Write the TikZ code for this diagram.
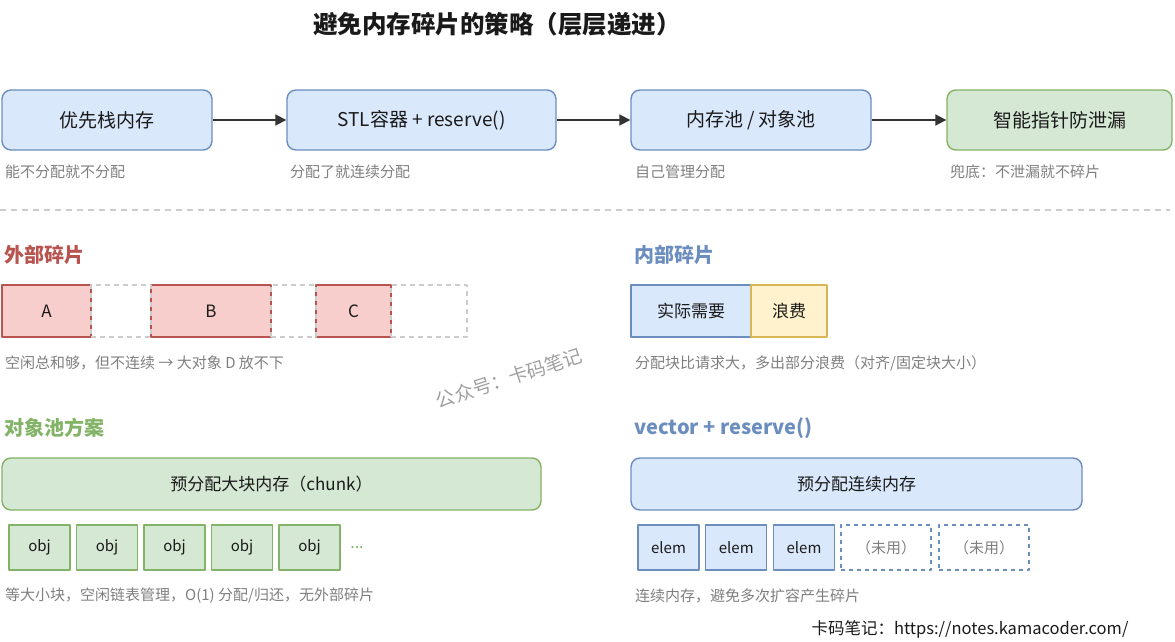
\documentclass[tikz,border=0pt]{standalone}
\usepackage{fontspec}
\setmainfont{Noto Sans CJK SC}
\usepackage{tikz}
\usetikzlibrary{arrows.meta}
\definecolor{bluefill}{HTML}{DAE8FC}
\definecolor{blueline}{HTML}{6C8EBF}
\definecolor{greenfill}{HTML}{D5E8D4}
\definecolor{greenline}{HTML}{82B366}
\definecolor{redfill}{HTML}{F8CECC}
\definecolor{redline}{HTML}{B85450}
\definecolor{yellowfill}{HTML}{FFF2CC}
\definecolor{yellowline}{HTML}{D6B656}
\definecolor{ink}{HTML}{1A1A1A}
\definecolor{capgray}{HTML}{7F7F7F}
\definecolor{dashgray}{HTML}{CCCCCC}
\definecolor{arrowgray}{HTML}{333333}
\tikzset{
  every picture/.style={line join=round, >={Triangle[length=11pt,width=11pt]}},
  stepbox/.style={draw, line width=1.4pt, rounded corners=9pt, inner sep=0pt, minimum height=60pt, text=ink, font=\fontsize{19}{22}\selectfont},
  blk/.style={draw, line width=1.4pt, inner sep=0pt, minimum height=52pt, text=ink, font=\fontsize{17}{20}\selectfont},
  freeblk/.style={draw=dashgray, line width=1.2pt, dash pattern=on 5pt off 4pt, inner sep=0pt, minimum height=52pt},
  cell/.style={draw, line width=1.4pt, inner sep=0pt, minimum width=61pt, minimum height=45pt, text=ink, font=\fontsize{15}{18}\selectfont},
  unused/.style={draw=blueline, line width=1.8pt, dash pattern=on 4pt off 4pt, inner sep=0pt, minimum width=90pt, minimum height=45pt, text=capgray, font=\fontsize{15}{18}\selectfont},
  caption/.style={anchor=west, inner sep=0pt, text=capgray, font=\fontsize{15}{18}\selectfont},
  heading/.style={anchor=west, inner sep=0pt, font=\fontsize{20}{24}\selectfont\bfseries},
  flow/.style={->, draw=arrowgray, fill=arrowgray, line width=1.8pt},
}

\begin{document}
\begin{tikzpicture}[x=1pt,y=-1pt]
\useasboundingbox (0,0) rectangle (1175,642);
\node[font=\fontsize{24.5}{28}\selectfont\bfseries, text=ink] (title) at (497,24) {避免内存碎片的策略（层层递进）};

% top row
\node[stepbox, fill=bluefill, draw=blueline, minimum width=210pt] (stack) at (107,120) {优先栈内存};
\node[stepbox, fill=bluefill, draw=blueline, minimum width=269pt] (stl) at (421.5,120) {STL容器 + reserve()};
\node[stepbox, fill=bluefill, draw=blueline, minimum width=240pt] (pool) at (751,120) {内存池 / 对象池};
\node[stepbox, fill=greenfill, draw=greenline, minimum width=225pt] (smart) at (1059.5,120) {智能指针防泄漏};
\draw[flow] (stack)--(stl);
\draw[flow] (stl)--(pool);
\draw[flow] (pool)--(smart);
\node[caption] (capstack) at (5,172) {能不分配就不分配};
\node[caption] (capstl) at (290,172) {分配了就连续分配};
\node[caption] (cappool) at (635,172) {自己管理分配};
\node[caption] (capsmart) at (950,172) {兜底：不泄漏就不碎片};

\draw[dashgray, line width=1.2pt, dash pattern=on 6pt off 5pt] (0,210)--(1170,210);

% external fragmentation
\node[heading, text=redline] (exthead) at (4,255) {外部碎片};
\node[blk, fill=redfill, draw=redline, minimum width=89pt] (blockA) at (46.5,311) {A};
\node[blk, fill=redfill, draw=redline, minimum width=120pt] (blockB) at (211,311) {B};
\node[blk, fill=redfill, draw=redline, minimum width=75pt] (blockC) at (353.5,311) {C};
\node[freeblk, minimum width=60pt] (freeAB) at (121,311) {};
\node[freeblk, minimum width=45pt] (freeBC) at (293.5,311) {};
\node[freeblk, minimum width=76pt] (freeC) at (429,311) {};
\node[caption] (capext) at (5,363) {空闲总和够，但不连续 → 大对象 D 放不下};

% internal fragmentation
\node[heading, text=blueline] (inthead) at (634,255) {内部碎片};
\node[blk, fill=bluefill, draw=blueline, minimum width=120pt] (need) at (691,311) {实际需要};
\node[blk, fill=yellowfill, draw=yellowline, minimum width=76pt] (waste) at (789,311) {浪费};
\node[caption] (capint) at (635,363) {分配块比请求大，多出部分浪费（对齐/固定块大小）};

\node[rotate=18, inner sep=0pt, text=capgray!75, font=\fontsize{19}{22}\selectfont] (mark) at (509,378) {公众号：卡码笔记};

% object pool
\node[heading, text=greenline] (poolhead) at (4,428) {对象池方案};
\node[blk, fill=greenfill, draw=greenline, rounded corners=9pt, minimum width=539pt] (chunk) at (271.5,484) {预分配大块内存（chunk）};
\foreach \i in {0,...,4}
  \node[cell, fill=greenfill, draw=greenline] (obj\i) at (39.5+67.5*\i,547.5) {obj};
\node[text=greenline, font=\fontsize{16}{18}\selectfont] (dots) at (357,548) {...};
\node[caption] (cappool2) at (5,596) {等大小块，空闲链表管理，O(1) 分配/归还，无外部碎片};

% vector + reserve
\node[heading, text=blueline] (vechead) at (634,428) {vector + reserve()};
\node[blk, fill=bluefill, draw=blueline, rounded corners=9pt, minimum width=451pt] (vec) at (856.5,484) {预分配连续内存};
\foreach \i in {0,1,2}
  \node[cell, fill=bluefill, draw=blueline] (elem\i) at (668.5+67.75*\i,547.5) {elem};
\node[unused] (spare0) at (886,547.5) {（未用）};
\node[unused] (spare1) at (984,547.5) {（未用）};
\node[caption] (capvec) at (635,596) {连续内存，避免多次扩容产生碎片};

\node[text=ink, font=\fontsize{16.5}{19}\selectfont] (footer) at (970,629) {卡码笔记：https://notes.kamacoder.com/};
\end{tikzpicture}
\end{document}
